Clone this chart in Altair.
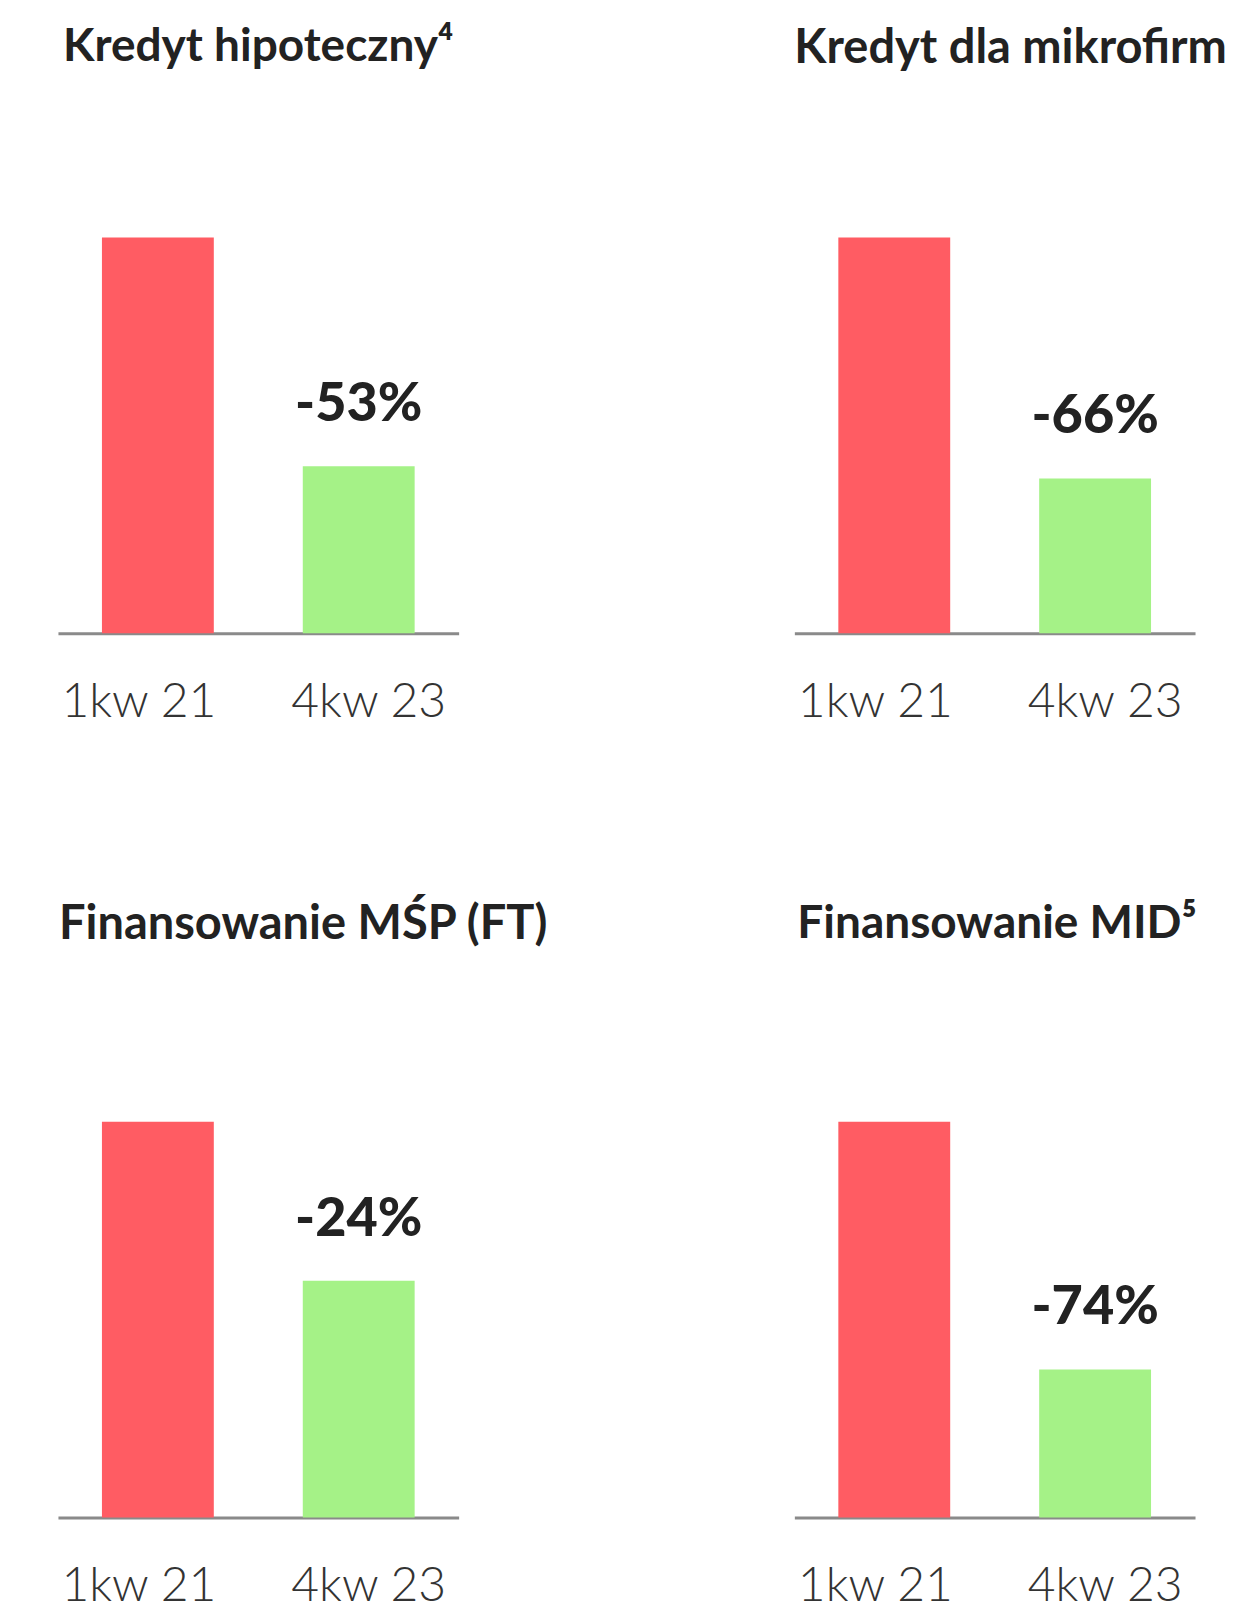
import altair as alt
import pandas as pd

# ---- data ----
titles = ["Kredyt hipoteczny⁴", "Kredyt dla mikrofirm", "Finansowanie MŚP (FT)", "Finansowanie MID⁵"]
periods = ["1kw 21", "4kw 23"]
start_vals = [100, 100, 100, 100]
end_vals = [42.2, 39.1, 59.8, 37.4]
changes = ["-53%", "-66%", "-24%", "-74%"]

# ---- style ----
colors = ["#FF5C63", "#A5F287"]
FONT = "Lato"
title_dx = [5, 0, 1, 3]
title_size = [46, 47, 47, 46]
title_offset = [43, 40, 48, 50]
PANEL_H = 396
PANEL_W = 401


def panel(i):
    df = pd.DataFrame({
        "okres": periods,
        "wartosc": [start_vals[i], end_vals[i]],
        "zmiana": ["", changes[i]],
    })
    base = alt.Chart(df).encode(
        x=alt.X(
            "okres:N",
            sort=periods,
            scale=alt.Scale(paddingInner=0.443, paddingOuter=0.219),
            axis=alt.Axis(
                title=None, labelAngle=0, ticks=False, tickSize=0, grid=False,
                domainColor="#8a8a8a", domainWidth=3,
                labelFont=FONT, labelFontSize=48, labelFontWeight=300,
                labelColor="#333333", labelPadding=83, labelBaseline="alphabetic",
                labelOffset={"condition": {"test": "datum.value === '1kw 21'", "value": -19}, "value": 10},
            ),
        ),
        y=alt.Y("wartosc:Q", scale=alt.Scale(domain=[0, 100]), axis=None),
    )
    bars = base.mark_bar().encode(
        color=alt.Color("okres:N", scale=alt.Scale(domain=periods, range=colors), legend=None)
    )
    text = base.mark_text(
        dy=-45, baseline="alphabetic", font=FONT, fontSize=54,
        fontWeight=900, color="#222222",
    ).encode(text="zmiana:N")
    return alt.layer(bars, text).properties(
        width=PANEL_W,
        height=PANEL_H,
        title=alt.TitleParams(
            titles[i], anchor="start", font=FONT, fontSize=title_size[i], fontWeight="bold",
            color="#222222", offset=title_offset[i], dx=title_dx[i], baseline="alphabetic",
        ),
    )


chart = alt.concat(
    *[panel(i) for i in range(4)],
    columns=2,
    spacing={"row": 489, "column": 336},
    bounds="flush",
).properties(
    padding={"left": 50, "top": 15, "right": 0, "bottom": 0}
).configure_view(stroke=None)

chart.save("out.html", embed_options={"renderer": "svg", "actions": False})
